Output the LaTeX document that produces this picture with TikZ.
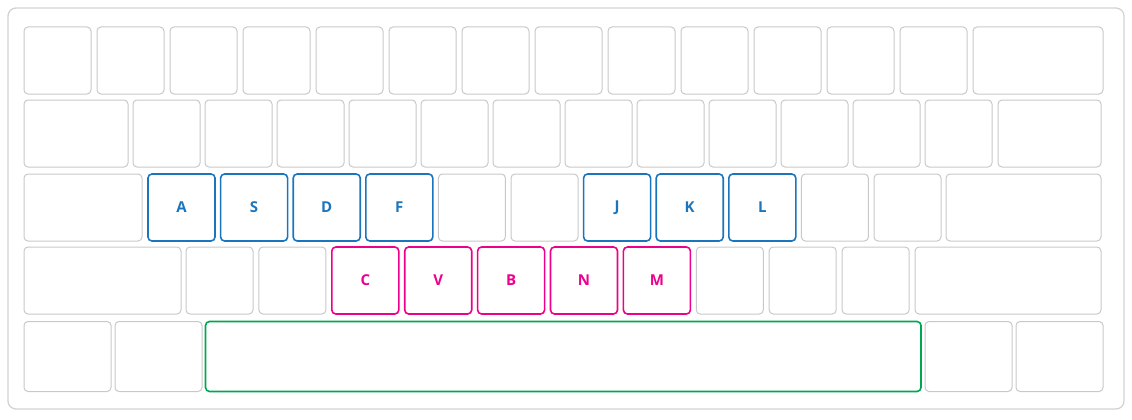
\documentclass[tikz,border=0pt]{standalone}
\usepackage{fontspec}
\setmainfont{Open Sans}
\definecolor{keygray}{HTML}{C8C8C8}
\definecolor{framegray}{HTML}{D2D2D2}
\definecolor{kblue}{HTML}{1B75BC}
\definecolor{kpink}{HTML}{EC008C}
\definecolor{kgreen}{HTML}{00A651}
\tikzset{
  keybase/.style={draw, rectangle, rounded corners=4pt, inner sep=0pt, outer sep=0pt,
    font=\fontsize{15}{17}\selectfont\bfseries},
  plainkey/.style={keybase, draw=keygray, line width=1pt},
  bluekey/.style={keybase, draw=kblue, line width=1.6pt, text=kblue},
  pinkkey/.style={keybase, draw=kpink, line width=1.6pt, text=kpink},
  greenkey/.style={keybase, draw=kgreen, line width=1.6pt},
}
% \kbkey{name}{x1}{x2}{ycenter}{height}{style}{text}
\newcommand\kbkey[7]{%
  \pgfmathsetmacro\kw{#3-#2}%
  \pgfmathsetmacro\kx{(#2+#3)/2}%
  \node[#6, minimum width=\kw pt, minimum height=#5pt] (#1) at (\kx,#4) {#7};%
}
\begin{document}
\begin{tikzpicture}[x=1pt,y=-1pt]
\useasboundingbox (0,0) rectangle (1132,420);
\node[draw=framegray, line width=1.3pt, rounded corners=8pt, minimum width=1116pt,
      minimum height=401pt, inner sep=0pt] (frame) at (566,208.5) {};
% row 1
\foreach \i in {0,...,12} {
  \pgfmathsetmacro\xa{24+73*\i}
  \pgfmathsetmacro\xb{\xa+67}
  \kbkey{ra\i}{\xa}{\xb}{60.5}{67}{plainkey}{}
}
\kbkey{ra13}{973}{1103}{60.5}{67}{plainkey}{}
% row 2
\kbkey{rb0}{24}{128}{133.5}{67}{plainkey}{}
\foreach \i in {1,...,12} {
  \pgfmathsetmacro\xa{133+72*(\i-1)}
  \pgfmathsetmacro\xb{\xa+67}
  \kbkey{rb\i}{\xa}{\xb}{133.5}{67}{plainkey}{}
}
\kbkey{rb13}{998}{1101}{133.5}{67}{plainkey}{}
% row 3
\kbkey{rc0}{24}{142}{207.5}{67}{plainkey}{}
\foreach \i/\s/\t in {1/bluekey/A,2/bluekey/S,3/bluekey/D,4/bluekey/F,5/plainkey/,6/plainkey/,
                      7/bluekey/J,8/bluekey/K,9/bluekey/L,10/plainkey/,11/plainkey/} {
  \pgfmathsetmacro\xa{148+72.6*(\i-1)}
  \pgfmathsetmacro\xb{\xa+67}
  \kbkey{rc\i}{\xa}{\xb}{207.5}{67}{\s}{\t}
}
\kbkey{rc12}{946}{1101}{207.5}{67}{plainkey}{}
% row 4
\kbkey{rd0}{24}{181}{280.5}{67}{plainkey}{}
\foreach \i/\s/\t in {1/plainkey/,2/plainkey/,3/pinkkey/C,4/pinkkey/V,5/pinkkey/B,6/pinkkey/N,
                      7/pinkkey/M,8/plainkey/,9/plainkey/,10/plainkey/} {
  \pgfmathsetmacro\xa{186+72.9*(\i-1)}
  \pgfmathsetmacro\xb{\xa+67}
  \kbkey{rd\i}{\xa}{\xb}{280.5}{67}{\s}{\t}
}
\kbkey{rd11}{915}{1101}{280.5}{67}{plainkey}{}
% row 5
\kbkey{re0}{24}{111}{356.5}{70}{plainkey}{}
\kbkey{re1}{115}{202}{356.5}{70}{plainkey}{}
\kbkey{space}{205.5}{921}{356.5}{70}{greenkey}{}
\kbkey{re3}{925}{1012}{356.5}{70}{plainkey}{}
\kbkey{re4}{1016}{1103}{356.5}{70}{plainkey}{}
\end{tikzpicture}
\end{document}
